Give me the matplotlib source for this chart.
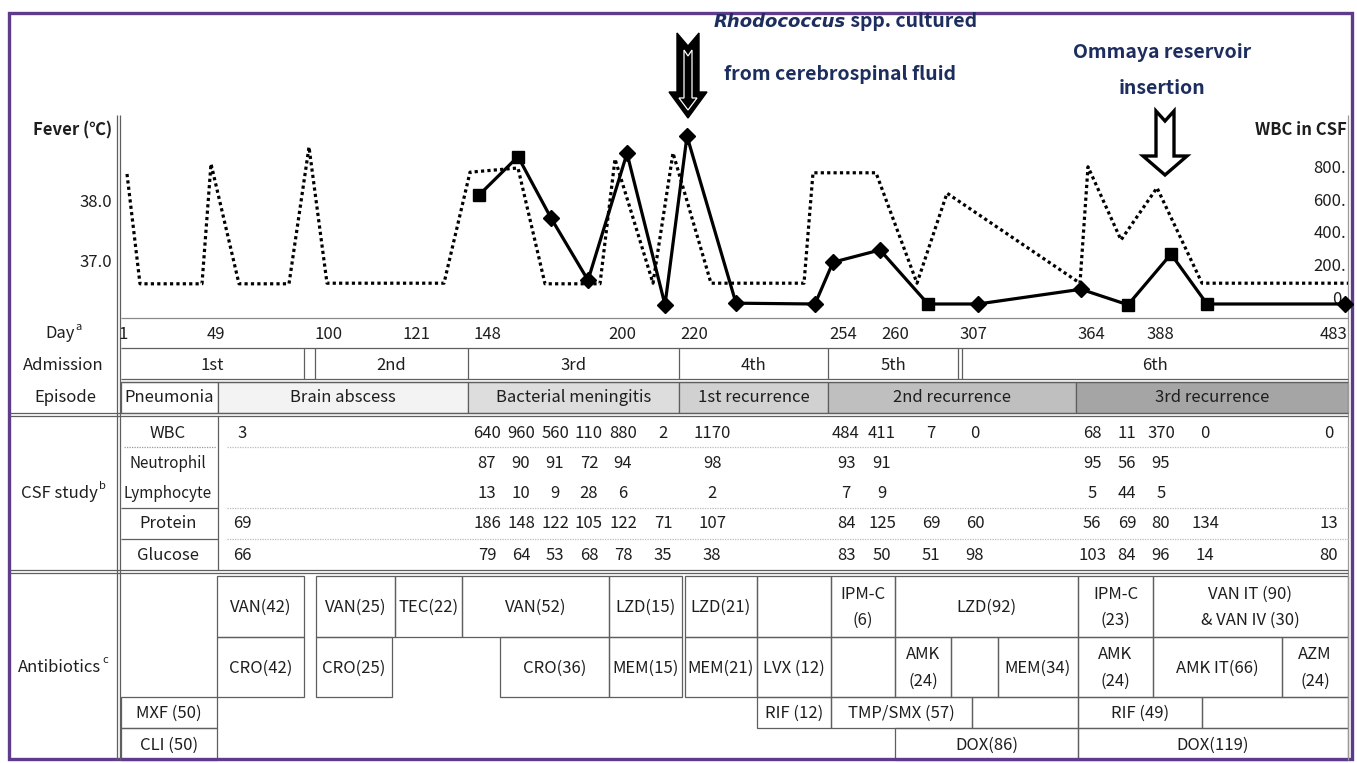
import matplotlib
matplotlib.use("Agg")
import matplotlib.pyplot as plt
from matplotlib.patches import Rectangle, Polygon

plt.rcParams['font.family'] = ['Noto Sans CJK KR', 'DejaVu Sans']

# -----------------------------
# Data
# -----------------------------
# timeline position (plot units) of the fever curve and its temperature
fever_pos = [6, 19, 81, 90, 118, 168, 188, 206, 323, 349, 397, 424, 479, 494, 532,
             552, 590, 683, 692, 755, 796, 826, 959, 967, 1000, 1036, 1081, 1227]
fever_temp = [38.45, 36.62, 36.62, 38.62, 36.62, 36.62, 38.9, 36.63, 36.63, 38.48,
              38.55, 36.62, 36.62, 38.7, 36.63, 38.8, 36.63, 36.63, 38.47, 38.47,
              36.63, 38.13, 36.63, 38.57, 37.35, 38.22, 36.63, 36.63]

# WBC in CSF curve (as drawn)
wbc_pos = [358, 397, 430, 467, 506, 544, 566, 615, 694, 712, 759, 807, 857, 960,
           1007, 1050, 1086, 1224]
wbc_val = [665, 900, 525, 145, 920, -5, 1025, 5, 0, 255, 330, 0, 0, 90, -5, 305, 0, 0]
wbc_mark = ['s', 's', 'D', 'D', 'D', 'D', 'D', 'D', 'D', 'D', 'D', 's', 'D', 'D',
            's', 's', 's', 'D']

day_labels = ['1', '49', '100', '121', '148', '200', '220', '254', '260', '307',
              '364', '388', '483']
day_pos = [2, 95, 208, 295, 366, 501, 573, 722, 774, 852, 970, 1039, 1212]

wbc_ticks = [0, 200, 400, 600, 800]
fever_ticks = [37, 38]

admissions = ['1st', '2nd', '3rd', '4th', '5th', '6th']
episodes = ['Pneumonia', 'Brain abscess', 'Bacterial meningitis',
            '1st recurrence', '2nd recurrence', '3rd recurrence']

csf_rows = ['WBC', 'Neutrophil', 'Lymphocyte', 'Protein', 'Glucose']
csf_wbc = [3, 640, 960, 560, 110, 880, 2, 1170, 484, 411, 7, 0, 68, 11, 370, 0, 0]
csf_neut = [None, 87, 90, 91, 72, 94, None, 98, 93, 91, None, None, 95, 56, 95, None, None]
csf_lymph = [None, 13, 10, 9, 28, 6, None, 2, 7, 9, None, None, 5, 44, 5, None, None]
csf_protein = [69, 186, 148, 122, 105, 122, 71, 107, 84, 125, 69, 60, 56, 69, 80, 134, 13]
csf_glucose = [66, 79, 64, 53, 68, 78, 35, 38, 83, 50, 51, 98, 103, 84, 96, 14, 80]

antibiotics = ['MXF (50)', 'CLI (50)', 'VAN(42)', 'CRO(42)', 'VAN(25)', 'TEC(22)',
               'VAN(52)', 'LZD(15)', 'CRO(25)', 'CRO(36)', 'MEM(15)', 'LZD(21)',
               'MEM(21)', '', 'LVX (12)', 'RIF (12)', 'IPM-C\n(6)', 'LZD(92)', '',
               'AMK\n(24)', '', 'MEM(34)', 'TMP/SMX (57)', '', 'DOX(86)',
               'IPM-C\n(23)', 'VAN IT (90)\n& VAN IV (30)', 'AMK\n(24)', 'AMK IT(66)',
               'AZM\n(24)', 'RIF (49)', '', 'DOX(119)']

# -----------------------------
# Layout (pixels)
# -----------------------------
W, H = 1357, 763
X0, X1 = 121, 1348
fig = plt.figure(figsize=(W / 100, H / 100), dpi=100)
lay = fig.add_axes([0, 0, 1, 1])
lay.set_xlim(0, W)
lay.set_ylim(H, 0)
lay.axis('off')

LC = '#5f5f5f'
TC = '#1e1e1e'
NAVY = '#1c2d5e'
FS = 12


def hline(y, x0, x1, lw=0.9, color=LC, ls='-'):
    lay.plot([x0, x1], [y, y], color=color, lw=lw, ls=ls, solid_capstyle='butt')


def vline(x, y0, y1, lw=0.9, color=LC):
    lay.plot([x, x], [y0, y1], color=color, lw=lw, solid_capstyle='butt')


def label(x, y, s, sup=None, **kw):
    t = lay.text(x, y, s, ha='center', va='center', fontsize=FS, color=TC, **kw)
    if sup:
        lay.annotate(sup, xy=(1.02, 0.6), xycoords=t, ha='left', va='bottom',
                     fontsize=8, color=TC)
    return t


# frame lines
vline(117, 115, 760)
vline(120, 115, 760)
vline(X1, 115, 760, color='#9a9a9a')
hline(318, X0, X1, color='#8a8a8a')
hline(348, X0, X1)
hline(379, X0, X1)
hline(382, X0, X1)
hline(413, 10, X1)
hline(416, 10, X1)
hline(570, 10, X1)
hline(573, 10, X1)

# left labels
label(60, 334, 'Day', sup='a')
label(63, 365, 'Admission')
label(65, 398, 'Episode')
label(59, 493, 'CSF study', sup='b')
label(59, 667, 'Antibiotics', sup='c')

# admission row
adm_cells = [(121, 304), (315, 468), (468, 679), (679, 828), (828, 958), (962, X1)]
for xv in [304, 315, 468, 679, 828, 958, 962]:
    vline(xv, 348, 379)
for (a, b), name in zip(adm_cells, admissions):
    label((a + b) / 2, 365, name)

# episode row
ep_edges = [121, 218, 468, 679, 828, 1076, X1]
ep_fill = ['white', '#f3f3f3', '#dddddd', '#d1d1d1', '#bfbfbf', '#a5a5a5']
for i, name in enumerate(episodes):
    a, b = ep_edges[i], ep_edges[i + 1]
    lay.add_patch(Rectangle((a, 382), b - a, 31, facecolor=ep_fill[i],
                            edgecolor=LC, lw=0.9))
    label((a + b) / 2, 398, name)

# CSF study block
vline(218, 416, 570)
csf_y = [433, 464, 494, 524, 555]
for name, yy in zip(csf_rows, csf_y):
    fs = 11 if name in ('Neutrophil', 'Lymphocyte') else FS
    lay.text(168, yy, name, ha='center', va='center', fontsize=fs, color=TC)
hline(447, 124, 216, color='#999999', ls=(0, (1, 1)))
hline(508, 121, 218)
hline(539, 121, 218)
for yy in [447, 508, 539]:
    hline(yy, 227, X1, color='#bbbbbb', ls=(0, (1, 1)))

csf_cols = [242, 487, 521, 555, 589, 623, 663, 712, 846, 882, 931, 975, 1092,
            1127, 1161, 1205, 1329]
for row, yy in zip([csf_wbc, csf_neut, csf_lymph, csf_protein, csf_glucose], csf_y):
    for xv, v in zip(csf_cols, row):
        if v is not None:
            lay.text(xv, yy, str(v), ha='center', va='center', fontsize=FS, color=TC)

# antibiotics block
r1, r2, r3, r4 = (576, 637), (637, 697), (697, 728), (728, 760)
ab_boxes = [(121, 217, r3), (121, 217, r4), (217, 304, r1), (217, 304, r2),
            (316, 395, r1), (395, 462, r1), (462, 609, r1), (609, 682, r1),
            (316, 392, r2), (500, 609, r2), (609, 682, r2), (685, 757, r1),
            (685, 757, r2), (757, 831, r1), (757, 831, r2), (757, 831, r3),
            (831, 895, r1), (895, 1078, r1), (831, 895, r2), (895, 951, r2),
            (951, 998, r2), (998, 1078, r2), (831, 972, r3), (972, 1078, r3),
            (895, 1078, r4), (1078, 1153, r1), (1153, X1, r1), (1078, 1153, r2),
            (1153, 1282, r2), (1282, X1, r2), (1078, 1202, r3), (1202, X1, r3),
            (1078, X1, r4)]
for name, (a, b, (y0, y1)) in zip(antibiotics, ab_boxes):
    lay.add_patch(Rectangle((a, y0), b - a, y1 - y0, facecolor='none',
                            edgecolor=LC, lw=0.9))
    if name:
        lay.text((a + b) / 2, (y0 + y1) / 2 + 1, name, ha='center', va='center',
                 fontsize=FS, color=TC, linespacing=1.7)

# purple frame
lay.add_patch(Rectangle((8.5, 13), 1343, 746, facecolor='none',
                        edgecolor='#5e3b8b', lw=2.4))

# -----------------------------
# Chart
# -----------------------------
ax = fig.add_axes([X0 / W, 1 - 318 / H, (X1 - X0) / W, (318 - 115) / H])
ax.patch.set_alpha(0)
ax.set_xlim(0, X1 - X0)
ax.set_ylim(36.05, 39.433)
for s in ax.spines.values():
    s.set_visible(False)
ax.set_xticks([])
ax.set_yticks(fever_ticks)
ax.set_yticklabels(['%.1f' % t for t in fever_ticks])
ax.tick_params(axis='y', length=0, pad=6.5, labelsize=FS, labelcolor=TC)
ax.plot(fever_pos, fever_temp, color='black', lw=2.3, ls=(0, (1, 1)),
        dash_capstyle='butt', zorder=2)

for p, lab in zip(day_pos, day_labels):
    ax.text(p, -0.079, lab, transform=ax.get_xaxis_transform(), ha='center',
            va='center', fontsize=FS, color=TC)

ax2 = ax.twinx()
ax2.set_ylim(-85.5, 1154)
for s in ax2.spines.values():
    s.set_visible(False)
ax2.set_yticks(wbc_ticks)
ax2.set_yticklabels(['%d.' % t for t in wbc_ticks], ha='right', va='baseline')
ax2.tick_params(axis='y', length=0, pad=-1.5, labelsize=FS, labelcolor=TC)
ax2.plot(wbc_pos, wbc_val, color='black', lw=2.3, zorder=3, clip_on=False)
for p, v, m in zip(wbc_pos, wbc_val, wbc_mark):
    ax2.plot(p, v, marker=m, ms=9 if m == 's' else 8, color='black',
             zorder=4, clip_on=False)

# axis titles
lay.text(112, 130, 'Fever (℃)', ha='right', va='center', fontsize=FS,
         fontweight='bold', color=TC)
lay.text(1347, 130, 'WBC in CSF', ha='right', va='center', fontsize=FS,
         fontweight='bold', color=TC)

# annotations
t = lay.text(714, 22, 'Rhodococcus', ha='left', va='center', fontsize=13,
             fontweight='bold', style='italic', color=NAVY,
             family=['DejaVu Sans'])
lay.annotate(' spp. cultured', xy=(1, 0), xycoords=t, ha='left', va='bottom',
             fontsize=14, fontweight='bold', color=NAVY)
lay.text(840, 75, 'from cerebrospinal fluid', ha='center', va='center',
         fontsize=14, fontweight='bold', color=NAVY)
lay.text(1162, 53, 'Ommaya reservoir', ha='center', va='center', fontsize=14,
         fontweight='bold', color=NAVY)
lay.text(1162, 88, 'insertion', ha='center', va='center', fontsize=14,
         fontweight='bold', color=NAVY)

arrow1 = [(677, 33), (688, 46), (699, 33), (699, 92), (707, 92), (688, 118),
          (669, 92), (677, 92)]
arrow1_in = [(684, 50), (688, 56), (692, 50), (692, 98), (697, 98), (688, 110),
             (679, 98), (684, 98)]
lay.add_patch(Polygon(arrow1, closed=True, facecolor='black', edgecolor='black', lw=1))
lay.add_patch(Polygon(arrow1_in, closed=True, facecolor='black', edgecolor='white', lw=0.9))
arrow2 = [(1156, 111), (1165, 121), (1174, 111), (1174, 156), (1187, 156),
          (1165, 175), (1143, 156), (1156, 156)]
lay.add_patch(Polygon(arrow2, closed=True, facecolor='white', edgecolor='black',
                      lw=2.4, joinstyle='miter'))

fig.savefig('out.png', dpi=100)
